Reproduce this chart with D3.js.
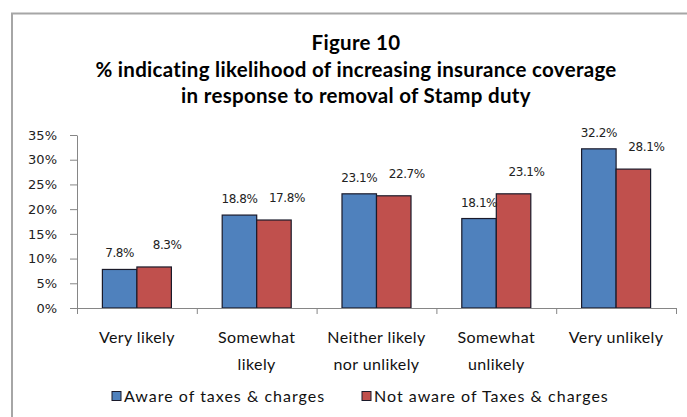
<!DOCTYPE html>
<html>
<head>
<meta charset="utf-8">
<script src="https://cdn.jsdelivr.net/npm/d3@7"></script>
<style>
  html, body { margin: 0; padding: 0; background: #fff; }
  svg { display: block; }
</style>
</head>
<body>
<svg id="chart" width="687" height="417"></svg>
<script>
// Survey response categories (each entry is one or two label lines)
const categories = [
  ["Very likely"],
  ["Somewhat", "likely"],
  ["Neither likely", "nor unlikely"],
  ["Somewhat", "unlikely"],
  ["Very unlikely"]
];
const seriesNames = ["Aware of taxes & charges", "Not aware of Taxes & charges"];
const awareValues = [7.8, 18.8, 23.1, 18.1, 32.2];
const notAwareValues = [8.3, 17.8, 22.7, 23.1, 28.1];
const yTickValues = [0, 5, 10, 15, 20, 25, 30, 35];
const titleLines = [
  "Figure 10",
  "% indicating likelihood of increasing insurance coverage",
  "in response to removal of Stamp duty"
];

const colors = ["#4F81BD", "#C0504D"];
const series = [awareValues, notAwareValues];
// per-series label placement: horizontal nudge and lift above the bar top
const labelNudge = [{ dx: 0, lift: 12 }, { dx: 13, lift: 18 }];

const svg = d3.select("#chart");
const plot = { left: 77, right: 676, top: 135, bottom: 308 };

// Outer chart frame (only the top and left edges fall inside the view)
svg.append("rect")
  .attr("x", 12).attr("y", 13.5)
  .attr("width", 720).attr("height", 450)
  .attr("fill", "#fff")
  .attr("stroke", "#a6a6a6")
  .attr("stroke-width", 2);

// Title
const title = svg.append("g").attr("font-family", "Lato, 'Open Sans', sans-serif")
  .attr("font-weight", "bold").attr("font-size", 20.5).attr("fill", "#000")
  .attr("letter-spacing", 0.3)
  .attr("text-anchor", "middle");
titleLines.forEach((t, i) => {
  title.append("text").attr("x", 356).attr("y", 50 + i * 26.5).text(t);
});

// Scales
const x0 = d3.scaleBand()
  .domain(d3.range(categories.length))
  .range([plot.left, plot.right])
  .paddingInner(0.424)
  .paddingOuter(0.212);
const x1 = d3.scaleBand()
  .domain(d3.range(series.length))
  .range([0, x0.bandwidth()]);
const y = d3.scaleLinear().domain([0, 35]).range([plot.bottom, plot.top]);

// Y axis
const yAxis = svg.append("g")
  .attr("transform", `translate(${plot.left},0)`)
  .call(d3.axisLeft(y).tickValues(yTickValues).tickFormat(d => d + "%")
    .tickSize(7).tickSizeOuter(0).tickPadding(13));
yAxis.select(".domain").attr("stroke", "#868686");
yAxis.selectAll(".tick line").attr("stroke", "#868686");
yAxis.selectAll(".tick text")
  .attr("font-family", "'DejaVu Sans', Verdana, sans-serif")
  .attr("font-size", 13).attr("fill", "#222");

// Bars
const groups = svg.append("g").selectAll("g")
  .data(categories.map((c, i) => i))
  .join("g")
  .attr("transform", i => `translate(${x0(i)},0)`);

groups.selectAll("rect")
  .data(i => series.map((s, k) => ({ k, v: s[i] })))
  .join("rect")
  .attr("x", d => x1(d.k))
  .attr("y", d => y(d.v))
  .attr("width", x1.bandwidth())
  .attr("height", d => y(0) - y(d.v))
  .attr("fill", d => colors[d.k])
  .attr("stroke", "#1a1a2a")
  .attr("stroke-width", 1.2);

// Value labels
groups.selectAll("text.val")
  .data(i => series.map((s, k) => ({ k, v: s[i] })))
  .join("text")
  .attr("class", "val")
  .attr("x", d => x1(d.k) + x1.bandwidth() / 2 + labelNudge[d.k].dx)
  .attr("y", d => y(d.v) - labelNudge[d.k].lift)
  .attr("text-anchor", "middle")
  .attr("font-family", "'DejaVu Sans', Verdana, sans-serif")
  .attr("font-size", 12)
  .attr("letter-spacing", -0.4)
  .attr("fill", "#222")
  .text(d => d.v.toFixed(1) + "%");

// X axis with category-boundary ticks
const xEdges = d3.scaleLinear().domain([0, categories.length]).range([plot.left, plot.right]);
const xAxis = svg.append("g")
  .attr("transform", `translate(0,${plot.bottom})`)
  .call(d3.axisBottom(xEdges).tickValues(d3.range(categories.length + 1))
    .tickFormat("").tickSize(6).tickSizeOuter(0));
xAxis.select(".domain").attr("stroke", "#868686");
xAxis.selectAll(".tick line").attr("stroke", "#868686");

// Category labels
const catLabels = svg.append("g")
  .attr("font-family", "Lato, 'Open Sans', sans-serif")
  .attr("font-size", 16).attr("fill", "#111")
  .attr("text-anchor", "middle");
categories.forEach((lines, i) => {
  const cx = x0(i) + x0.bandwidth() / 2;
  lines.forEach((ln, j) => {
    catLabels.append("text")
      .attr("x", cx).attr("y", 343 + j * 27)
      .attr("letter-spacing", 0.4)
      .text(ln);
  });
});

// Legend
const legendX = [112, 362];
const legend = svg.append("g");
seriesNames.forEach((name, k) => {
  legend.append("rect")
    .attr("x", legendX[k]).attr("y", 391.5)
    .attr("width", 9).attr("height", 9)
    .attr("fill", colors[k]).attr("stroke", "#1a1a2a").attr("stroke-width", 1);
  legend.append("text")
    .attr("x", legendX[k] + 12).attr("y", 402)
    .attr("font-family", "Lato, 'Open Sans', sans-serif")
    .attr("font-size", 16).attr("fill", "#111")
    .attr("letter-spacing", 1.0)
    .text(name);
});
</script>
</body>
</html>
